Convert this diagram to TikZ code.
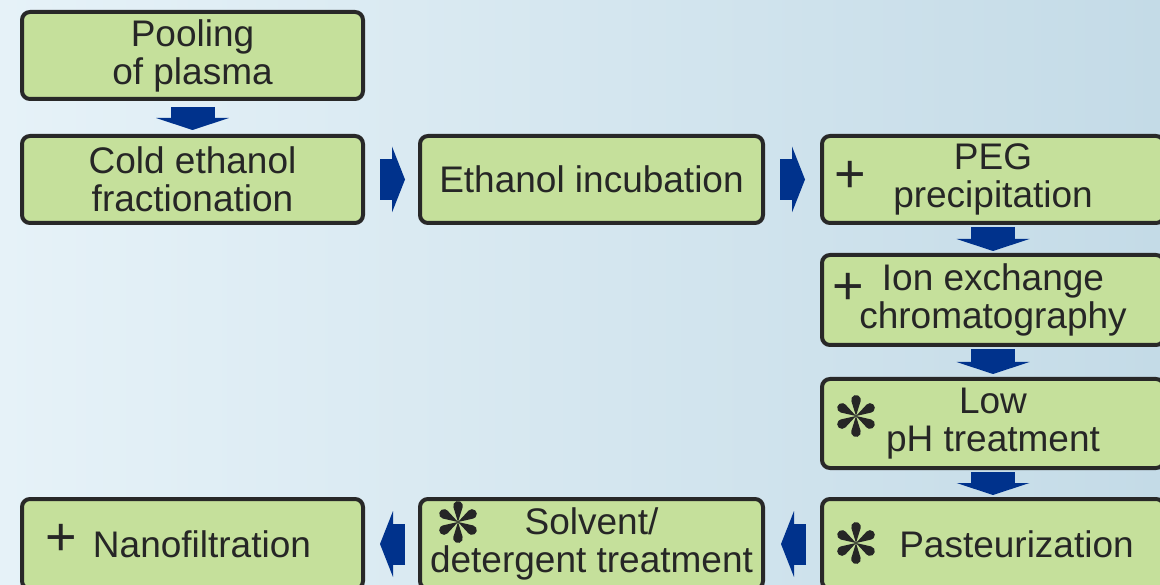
\documentclass[tikz,border=0pt]{standalone}
\usepackage{fontspec}
\setmainfont{Liberation Sans}
\usepackage{tikz}
\usetikzlibrary{arrows.meta}
\usepackage{xcolor}
\definecolor{pfgreen}{RGB}{197,224,155}
\definecolor{pfline}{RGB}{40,40,40}
\definecolor{pftext}{RGB}{38,38,38}
\definecolor{pfblue}{RGB}{0,50,140}
\definecolor{pfbgleft}{RGB}{230,242,248}
\definecolor{pfbgmid}{RGB}{245,250,252}
\definecolor{pfbgright}{RGB}{196,219,231}
\tikzstyle{stepbox} = [rectangle, rounded corners=8pt, minimum width=341pt, minimum height=87pt, align=center, draw=pfline, fill=pfgreen, line width=4pt, text=pftext, font=\fontsize{37}{38}\selectfont]
\tikzstyle{vflow} = [line width=44pt, color=pfblue, -{Triangle[width=73pt,length=12pt,line width=0pt]}]
\tikzstyle{hflow} = [line width=41pt, color=pfblue, -{Triangle[width=66pt,length=13pt,line width=0pt]}]
\tikzstyle{plusmark} = [font=\fontsize{54}{54}\selectfont, text=pftext, inner sep=0pt]
\tikzset{petalstar/.pic={
  \foreach \a in {0,60,...,300}
    \fill[pftext, rotate=\a] (0,0) -- (4.57,14.78) arc[start angle=-17.2, end angle=197.2, radius=4.8] -- cycle;
}}

\begin{document}
\begin{tikzpicture}[x=1pt,y=-1pt]
% Background
\useasboundingbox (0,0) rectangle (1160,585);
\shade[left color=pfbgleft, middle color=pfbgmid, right color=pfbgright] (0,0) rectangle (1160,585);

% Process steps
\node[stepbox] (pool) at (192.5,55.5) {Pooling\\of plasma};
\node[stepbox] (cold) at (192.5,179.5) {Cold ethanol\\fractionation};
\node[stepbox, minimum width=343pt] (etoh) at (591.5,179.5) {Ethanol incubation};
\node[stepbox, minimum width=342pt] (peg) at (993,179.5) {PEG\\precipitation};
\node[stepbox, minimum width=342pt, minimum height=90pt] (ion) at (993,300) {Ion exchange\\chromatography};
\node[stepbox, minimum width=342pt, minimum height=89pt] (lowph) at (993,423.5) {Low\\pH treatment};
\node[stepbox, minimum width=342pt, minimum height=90pt] (past) at (993,544) {\hspace*{47pt}Pasteurization};
\node[stepbox, minimum width=343pt, minimum height=90pt] (solv) at (591.5,544) {Solvent/\\detergent treatment};
\node[stepbox, minimum height=90pt] (nano) at (192.5,544) {\hspace*{19pt}Nanofiltration};

% Marks
\node[plusmark] (pegplus) at (850,177) {+};
\node[plusmark] (ionplus) at (848,289) {+};
\node[plusmark] (nanoplus) at (61,540) {+};
\pic (lowstar) at (856,416) {petalstar};
\pic (paststar) at (856,543) {petalstar};
\pic (solvstar) at (458,522) {petalstar};

% Arrows
\draw[vflow, shorten <=6pt, shorten >=4pt] (pool) -- (cold);
\draw[hflow, shorten <=15pt, shorten >=13pt] (cold) -- (etoh);
\draw[hflow, shorten <=15pt, shorten >=15pt] (etoh) -- (peg);
\draw[vflow, shorten <=2pt, shorten >=2pt] (peg) -- (ion);
\draw[vflow, shorten <=2pt, shorten >=3pt] (ion) -- (lowph);
\draw[vflow, shorten <=2pt, shorten >=2pt] (lowph) -- (past);
\draw[hflow, shorten <=14pt, shorten >=16pt] (past) -- (solv);
\draw[hflow, shorten <=13pt, shorten >=15pt] (solv) -- (nano);
\end{tikzpicture}
\end{document}
